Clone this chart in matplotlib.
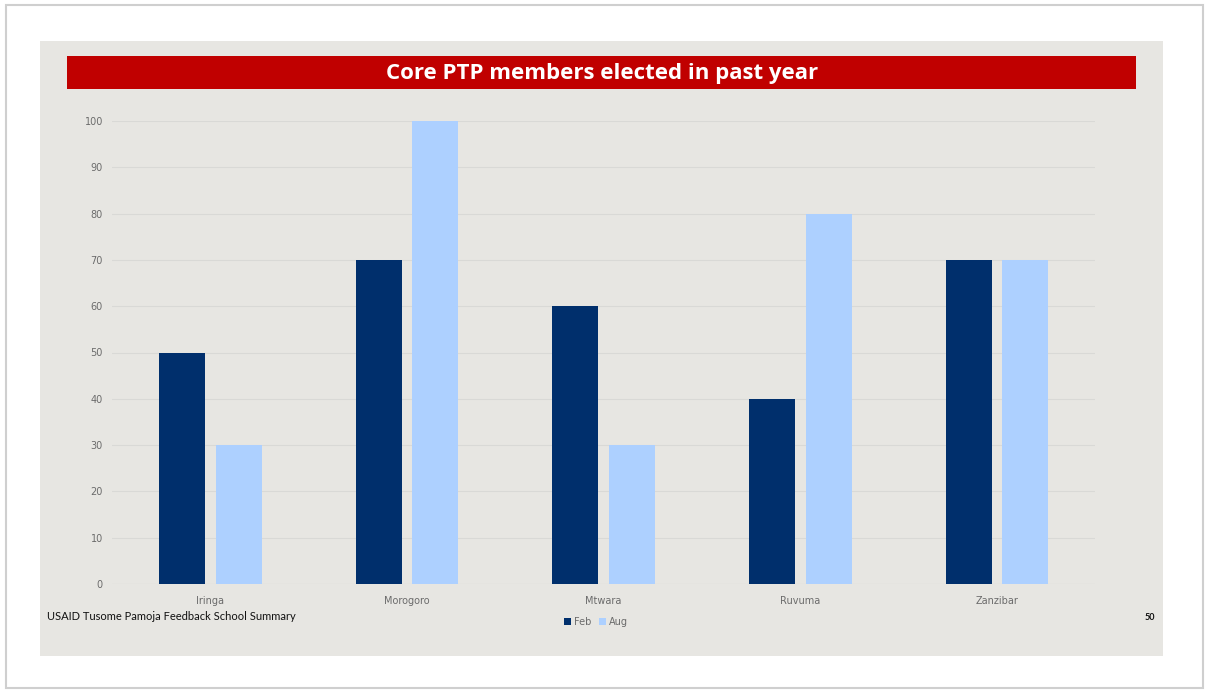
import numpy as np
import matplotlib.pyplot as plt
from matplotlib.patches import Rectangle

regions = ['Iringa', 'Morogoro', 'Mtwara', 'Ruvuma', 'Zanzibar']
feb = [50, 70, 60, 40, 70]
aug = [30, 100, 30, 80, 70]
series_names = ['Feb', 'Aug']

W, H = 1209, 693
fig = plt.figure(figsize=(W / 100, H / 100), dpi=100)
fig.patch.set_facecolor('white')

def px_rect(x0, y0, x1, y1, **kw):
    # rectangle given in pixel coords, origin top-left
    fig.patches.append(Rectangle((x0 / W, 1 - y1 / H), (x1 - x0) / W, (y1 - y0) / H,
                                 transform=fig.transFigure, figure=fig, zorder=-5, **kw))

# outer frame, slide background and title banner
px_rect(6, 5, 1203, 688, facecolor='none', edgecolor='#cfcfcf', lw=1.5)
px_rect(40, 41, 1163, 656, facecolor='#e7e6e2', edgecolor='none')
px_rect(67, 56, 1136, 89, facecolor='#c00000', edgecolor='none')
fig.text(602 / W, 1 - 73 / H, 'Core PTP members elected in past year', color='white',
         fontsize=16, fontweight='bold', ha='center', va='center', family='Open Sans')

ax = fig.add_axes([112 / W, 1 - 584 / H, 983 / W, (584 - 121) / H])
ax.set_facecolor('none')

x = np.arange(len(regions))
w = 0.234
ax.bar(x - 0.143, feb, w, color='#002f6c', label=series_names[0], zorder=3)
ax.bar(x + 0.145, aug, w, color='#add0ff', label=series_names[1], zorder=3)

ax.set_xlim(-0.5, len(regions) - 0.5)
ax.set_ylim(0, 100)
ax.set_yticks(range(0, 101, 10))
ax.set_xticks(x)
ax.set_xticklabels(regions)
ax.tick_params(length=0, labelsize=7, colors='#6b6b6b', pad=9)
ax.tick_params(axis='y', pad=6.5)
ax.grid(axis='y', color='#d9d9d6', lw=0.8, zorder=0)
for s in ax.spines.values():
    s.set_visible(False)
ax.axhline(0, color='#d4d4d0', lw=0.8, zorder=2)

leg = fig.legend(loc='center', bbox_to_anchor=(596 / W, 1 - 622 / H), ncol=2, frameon=False,
                 fontsize=7, handlelength=0.7, handleheight=0.7, handletextpad=0.3,
                 columnspacing=0.8)
for t in leg.get_texts():
    t.set_color('#6b6b6b')

fig.text(47 / W, 1 - 616 / H, 'USAID Tusome Pamoja Feedback School Summary',
         fontsize=8, color='#111111', ha='left', va='center', family='Lato')
fig.text(1155 / W, 1 - 618 / H, '50', fontsize=6.5, color='#111111', fontweight='bold',
         ha='right', va='center', family='Lato')

fig.savefig('out.png', dpi=100)
